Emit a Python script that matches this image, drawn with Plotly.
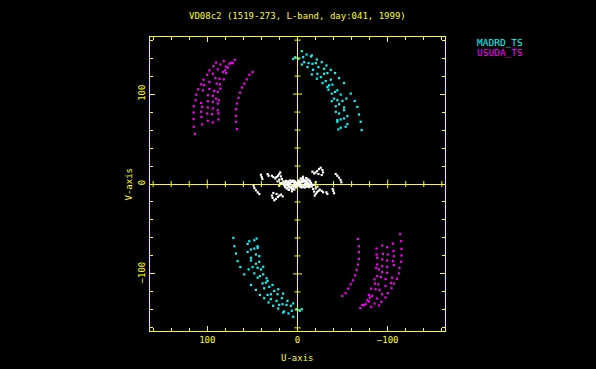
import numpy as np
import plotly.graph_objects as go

title_text = "VD08c2 (1519-273, L-band, day:041, 1999)"
series_names = ["MADRD_TS", "USUDA_TS"]
x_title = "U-axis"
y_title = "V-axis"

# MADRD_TS baseline samples (one half of the uv plane; conjugates drawn too)
madrd_u = [-4.8, 2.5, 4.8, -1.1, -6.3, -10.0, -14.8, -15.9, -7.4, -4.8, -12.2, -16.6, -11.1,
           -21.4, -20.3, -17.3, -23.2, -26.9, -29.5, -32.1, -36.9, -15.9, -22.1, -25.8, -29.5,
           -33.2, -21.4, -27.7, -31.3, -36.9, -41.7, -46.1, -51.6, -33.2, -35.0, -38.7, -34.3,
           -38.0, -41.7, -44.2, -47.9, -59.0, -38.0, -40.5, -44.2, -49.8, -54.2, -63.4, -42.4,
           -46.1, -51.6, -66.3, -42.4, -46.1, -51.6, -55.3, -68.2, -44.2, -47.9, -51.6, -44.2,
           -53.4, -55.3, -70.0, -45.3, -47.9, -71.1]
madrd_v = [147.7, 141.0, 139.2, 139.2, 141.0, 144.0, 141.8, 142.9, 135.5, 132.9, 134.4, 133.7, 130.0,
           138.5, 134.4, 127.0, 130.0, 135.5, 128.1, 131.8, 127.0, 121.9, 122.6, 118.9, 122.6,
           123.4, 117.1, 112.3, 114.5, 116.0, 123.4, 117.8, 112.3, 107.9, 109.7, 110.5, 104.9,
           100.5, 102.4, 104.2, 99.4, 100.5, 92.1, 95.0, 93.2, 92.4, 95.0, 92.4, 86.5,
           88.7, 85.1, 85.8, 80.3, 78.4, 82.1, 75.5, 77.3, 71.1, 71.8, 72.9, 69.2,
           63.7, 66.6, 69.2, 60.7, 62.6, 60.0]

# USUDA_TS baseline samples
usuda_u = [69.6, 73.6, 75.5, 71.8, 81.7, 90.2, 85.4, 79.1, 77.3, 80.3, 93.1, 88.4, 82.8, 79.1,
           97.6, 100.1, 93.9, 90.9, 86.5, 81.7, 104.2, 106.8, 103.5, 97.6, 89.5, 85.8, 85.4,
           110.1, 104.9, 97.6, 92.4, 88.4, 112.3, 99.4, 93.9, 90.2, 87.3, 113.0, 106.8, 99.4,
           93.9, 88.4, 114.9, 105.7, 99.4, 93.9, 88.4, 115.2, 106.8, 100.1, 94.6, 87.6, 115.2,
           106.4, 99.4, 93.9, 87.6, 114.9, 105.7, 113.8,
           49.7, 53.4, 56.3, 58.9, 61.5, 63.7, 65.5, 67.0, 68.1, 68.1, 68.1, 67.0]
usuda_v = [138.1, 134.8, 133.7, 134.4, 136.6, 135.1, 132.9, 130.7, 129.3, 126.3, 131.1, 127.4, 124.5, 123.4,
           126.3, 121.5, 122.6, 117.8, 117.1, 116.4, 116.0, 110.8, 110.1, 113.4, 111.6, 110.8, 106.0,
           105.3, 104.2, 105.7, 103.5, 102.4, 99.4, 98.7, 98.0, 95.0, 93.2, 93.2, 90.2, 92.1,
           91.3, 89.5, 86.5, 85.8, 85.1, 84.0, 82.1, 79.5, 80.3, 78.4, 77.7, 78.4, 72.2,
           74.7, 70.3, 68.5, 71.8, 63.7, 66.3, 55.6,
           124.5, 121.5, 116.4, 111.6, 107.2, 101.6, 95.7, 89.5, 83.2, 75.8, 69.2, 61.1]

# Short baselines (white)
short_u = [19.1, 20.2, 21.7, 23.2, 24.6, 26.8, 28.3, 18.4, 17.3, 20.2, 22.1, 18.4, 20.2, 15.8,
           13.6, 12.1, 9.2, 9.9, 7.3,
           26.8, 28.3, 27.6, 25.7, 23.9, 21.7, 20.2, 18.4, 16.5, 23.2,
           40.5, 39.7, 39.0, 48.6, 47.8, 46.0, 44.1, 42.3, 33.1, 32.0,
           12.8, 11.0, 9.2, 7.3, 5.5, 3.6, 1.8, 2.5, 5.5, 8.4, 4.7, 1.8, 6.2, 3.6,
           14.5, 13.0, 11.5, 10.0, 8.0, 6.5, 4.5, 3.0, 1.0, 14.0, 10.5, 7.0, 4.0, 2.0,
           12.0, 9.5, 6.0, 3.0, 16.5, 15.0, 13.5, 11.0, 8.5, 0.8]
short_v = [12.9, 11.0, 9.2, 7.7, 6.2, 7.7, 9.2, 8.4, 5.5, 4.8, 2.9, 1.1, -1.9, 2.9,
           1.8, -0.8, -2.6, -6.3, -4.5,
           -10.0, -12.9, -15.5, -18.1, -16.6, -14.4, -12.9, -11.8, -13.7, -11.1,
           10.3, 7.7, 5.5, -1.9, -4.5, -7.0, -9.2, -11.1, 11.0, 9.2,
           1.8, 0.3, 1.1, 1.8, 2.5, 1.1, 1.8, -0.8, -1.9, -3.3, -4.5, -2.6, -8.1, -6.3,
           0.5, 3.5, 2.5, 3.0, 4.0, 3.2, 3.8, 3.0, 0.2, -2.5, -1.5, -3.0, -2.2, -4.0,
           -5.0, -6.5, -5.8, -1.5, 0.8, -1.0, -3.5, -4.0, -0.2, -1.2]

major_ticks = [-100, 0, 100]
major_labels = ["\u2212100", "0", "100"]
minor_ticks = list(range(-160, 161, 20))
axis_limit = 163.5

YEL = "#ffff00"
FONT = "DejaVu Sans Mono"


def with_conjugates(u, v):
    u = np.asarray(u, float)
    v = np.asarray(v, float)
    return np.concatenate([u, -u]), np.concatenate([v, -v])


fig = go.Figure()
for u, v, col, name in [(short_u, short_v, "#ffffff", "short"),
                        (madrd_u, madrd_v, "#00ffff", series_names[0]),
                        (usuda_u, usuda_v, "#ff00ff", series_names[1])]:
    uu, vv = with_conjugates(u, v)
    fig.add_trace(go.Scatter(x=uu, y=vv, mode="markers", name=name, showlegend=False,
                             hoverinfo="skip",
                             marker=dict(symbol="square", size=2.2, color=col,
                                         line=dict(width=0))))

axis_common = dict(showgrid=False, zeroline=True, zerolinecolor=YEL, zerolinewidth=1,
                   showline=True, linecolor=YEL, linewidth=1, mirror="ticks",
                   ticks="inside", ticklen=5, tickcolor=YEL, tickwidth=1,
                   tickmode="array", tickvals=major_ticks, ticktext=major_labels,
                   tickfont=dict(family=FONT, size=9, color=YEL),
                   minor=dict(tickmode="array", tickvals=minor_ticks, ticks="inside",
                              ticklen=3, tickcolor=YEL, tickwidth=1, showgrid=False))

shapes = []
for t in minor_ticks:
    if t == 0:
        continue
    half = 4.5 if t in major_ticks else 3
    shapes.append(dict(type="line", xref="x", yref="y", ysizemode="pixel", yanchor=0,
                       x0=t, x1=t, y0=-half, y1=half, line=dict(color=YEL, width=1)))
    shapes.append(dict(type="line", xref="x", yref="y", xsizemode="pixel", xanchor=0,
                       y0=t, y1=t, x0=-half, x1=half, line=dict(color=YEL, width=1)))

L, T, W, H = 150, 37, 295, 294
ann_font = dict(family=FONT, size=9, color=YEL)
annotations = [
    dict(text=title_text, xref="paper", yref="paper", x=0.5, y=1 + (T - 16) / H,
         xanchor="center", yanchor="middle", showarrow=False, font=ann_font),
    dict(text=x_title, xref="paper", yref="paper", x=0.5, y=-(358 - (T + H)) / H,
         xanchor="center", yanchor="middle", showarrow=False, font=ann_font),
    dict(text=y_title, xref="paper", yref="paper", x=-(L - 128.5) / W, y=0.5,
         xanchor="center", yanchor="middle", textangle=-90, showarrow=False, font=ann_font),
    dict(text=series_names[0], xref="paper", yref="paper", x=(475 - L) / W, y=1 - (42 - T) / H,
         xanchor="left", yanchor="middle", showarrow=False,
         font=dict(family=FONT, size=9.5, color="#00ffff")),
    dict(text=series_names[1], xref="paper", yref="paper", x=(475 - L) / W, y=1 - (52.7 - T) / H,
         xanchor="left", yanchor="middle", showarrow=False,
         font=dict(family=FONT, size=9.5, color="#ff00ff")),
]

fig.update_layout(
    width=596, height=369,
    paper_bgcolor="black", plot_bgcolor="black",
    margin=dict(l=L, r=596 - L - W, t=T, b=369 - T - H, pad=0),
    xaxis=dict(range=[axis_limit, -axis_limit], **axis_common),
    yaxis=dict(range=[-axis_limit, axis_limit], tickangle=-90, **axis_common),
    shapes=shapes, annotations=annotations, showlegend=False, hovermode=False,
)

fig.write_html("out.html", config={"displayModeBar": False},
               post_script="document.body.style.margin='0';document.body.style.background='black';")
